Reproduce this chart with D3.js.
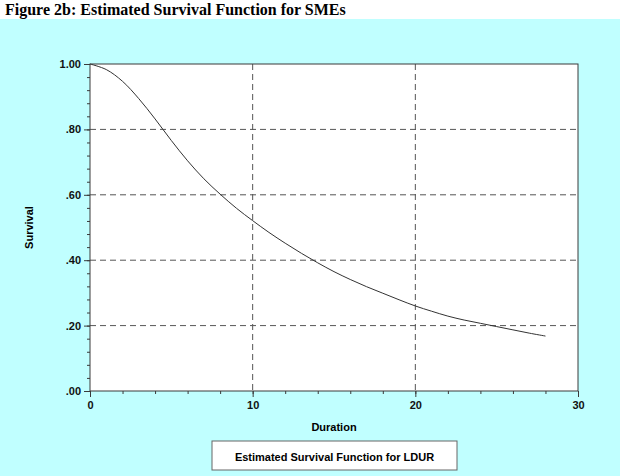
<!DOCTYPE html>
<html>
<head>
<meta charset="utf-8">
<script src="https://cdn.jsdelivr.net/npm/d3@7"></script>
<style>
  body { margin: 0; background: #fff; }
  svg text { font-family: "Liberation Sans", Arial, sans-serif; }
</style>
</head>
<body>
<div id="chart"></div>
<script>
const w = 622;
const h = 476;

// data
const duration = [0, 1, 2, 3, 4, 5, 6, 7, 8, 9, 10, 11, 12, 13, 14, 15, 16, 17, 18, 19, 20, 21, 22, 23, 24, 25, 26, 27, 28];
const survival = [1.000, 0.983, 0.947, 0.894, 0.832, 0.766, 0.704, 0.649, 0.602, 0.559, 0.521, 0.485, 0.452, 0.421, 0.392,
    0.365, 0.341, 0.319, 0.299, 0.279, 0.260, 0.244, 0.229, 0.217, 0.207, 0.197, 0.187, 0.177, 0.168];
const xTicks = [0, 10, 20, 30];
const yTicks = [0, 0.2, 0.4, 0.6, 0.8, 1.0];
const yTickLabels = ['.00', '.20', '.40', '.60', '.80', '1.00'];
const xMinor = d3.range(0, 31, 2);
const yMinor = d3.range(0, 26).map(i => i * 0.04);

const plotLeft = 90, plotRight = 578, plotTop = 64, plotBottom = 391;
const ink = '#3a3a3a';

const svg = d3.select('#chart')
    .append('svg')
    .attr('width', w)
    .attr('height', h);

// title
svg.append('text')
    .attr('x', 5)
    .attr('y', 15)
    .style('font-family', '"Liberation Serif", "Times New Roman", serif')
    .style('font-weight', 'bold')
    .style('font-size', '16px')
    .text('Figure 2b: Estimated Survival Function for SMEs');

// cyan panel
svg.append('rect')
    .attr('x', 0)
    .attr('y', 19)
    .attr('width', 620)
    .attr('height', h - 19)
    .attr('fill', '#c0ffff');

const xScale = d3.scaleLinear().domain([0, 30]).range([plotLeft, plotRight]);
const yScale = d3.scaleLinear().domain([0, 1]).range([plotBottom, plotTop]);

// plot area
svg.append('rect')
    .attr('x', plotLeft)
    .attr('y', plotTop)
    .attr('width', plotRight - plotLeft)
    .attr('height', plotBottom - plotTop)
    .attr('fill', '#fff');

// grid
svg.append('g')
    .selectAll('line')
    .data([0.2, 0.4, 0.6, 0.8])
    .enter()
    .append('line')
    .attr('x1', plotLeft).attr('x2', plotRight)
    .attr('y1', d => yScale(d)).attr('y2', d => yScale(d))
    .attr('stroke', '#555')
    .attr('stroke-dasharray', '6,4');

svg.append('g')
    .selectAll('line')
    .data([10, 20])
    .enter()
    .append('line')
    .attr('x1', d => xScale(d)).attr('x2', d => xScale(d))
    .attr('y1', plotTop).attr('y2', plotBottom)
    .attr('stroke', '#555')
    .attr('stroke-dasharray', '6,4');

// axes: minor then major
const styleAxis = g => {
    g.select('.domain').remove();
    g.selectAll('line').attr('stroke', ink);
    g.selectAll('text')
        .attr('fill', '#111')
        .style('font-size', '11px')
        .style('font-weight', 'bold');
};

svg.append('g')
    .attr('transform', 'translate(' + plotLeft + ',0)')
    .call(d3.axisLeft(yScale).tickValues(yMinor).tickSize(3).tickFormat(''))
    .call(styleAxis);

svg.append('g')
    .attr('transform', 'translate(' + plotLeft + ',0)')
    .call(d3.axisLeft(yScale).tickValues(yTicks).tickSize(6).tickPadding(3)
        .tickFormat((d, i) => yTickLabels[i]))
    .call(styleAxis);

svg.append('g')
    .attr('transform', 'translate(0,' + plotBottom + ')')
    .call(d3.axisBottom(xScale).tickValues(xMinor).tickSize(3).tickFormat(''))
    .call(styleAxis);

svg.append('g')
    .attr('transform', 'translate(0,' + plotBottom + ')')
    .call(d3.axisBottom(xScale).tickValues(xTicks).tickSize(6).tickPadding(4)
        .tickFormat(d3.format('d')))
    .call(styleAxis);

// frame
svg.append('rect')
    .attr('x', plotLeft)
    .attr('y', plotTop)
    .attr('width', plotRight - plotLeft)
    .attr('height', plotBottom - plotTop)
    .attr('fill', 'none')
    .attr('stroke', ink);

// survival curve
const line = d3.line()
    .x((d, i) => xScale(duration[i]))
    .y(d => yScale(d))
    .curve(d3.curveCatmullRom.alpha(0.5));

svg.append('path')
    .datum(survival)
    .attr('d', line)
    .attr('fill', 'none')
    .attr('stroke', '#333')
    .attr('stroke-width', 1);

// axis titles
svg.append('text')
    .attr('x', (plotLeft + plotRight) / 2)
    .attr('y', 431)
    .attr('text-anchor', 'middle')
    .style('font-size', '11px')
    .style('font-weight', 'bold')
    .text('Duration');

svg.append('text')
    .attr('transform', 'translate(33,' + (plotTop + plotBottom) / 2 + ') rotate(-90)')
    .attr('text-anchor', 'middle')
    .style('font-size', '11px')
    .style('font-weight', 'bold')
    .text('Survival');

// legend
svg.append('rect')
    .attr('x', 212)
    .attr('y', 441)
    .attr('width', 245)
    .attr('height', 29)
    .attr('fill', '#fff')
    .attr('stroke', '#666');

svg.append('text')
    .attr('x', 334.5)
    .attr('y', 461)
    .attr('text-anchor', 'middle')
    .style('font-size', '11px')
    .style('font-weight', 'bold')
    .text('Estimated Survival Function for LDUR');
</script>
</body>
</html>
